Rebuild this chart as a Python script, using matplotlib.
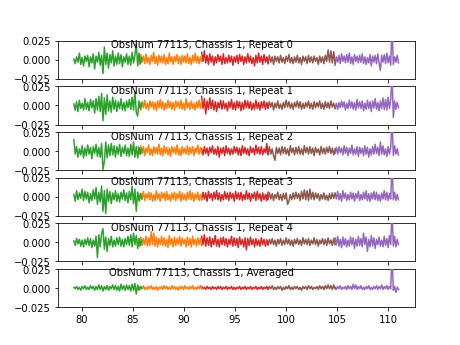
import numpy as np
import matplotlib
matplotlib.use("Agg")
import matplotlib.pyplot as plt

# band edges (GHz) for the five spectral chunks
band_lo = [79.25, 85.55, 91.75, 98.1, 104.8]
band_hi = [85.9, 91.75, 98.25, 104.8, 111.0]
band_colors = ["tab:green", "tab:orange", "tab:red", "tab:brown", "tab:purple"]

labels = ["ObsNum 77113, Chassis 1, Repeat 0",
          "ObsNum 77113, Chassis 1, Repeat 1",
          "ObsNum 77113, Chassis 1, Repeat 2",
          "ObsNum 77113, Chassis 1, Repeat 3",
          "ObsNum 77113, Chassis 1, Repeat 4",
          "ObsNum 77113, Chassis 1, Averaged"]

# spectra, in units of 1e-3
rep0_green = [1,-5,4,-3,9,-6,3,-8,5,-2, 6,-9,4,-4,8,-12,5,-3,10,-7, 6,-18,17,-6,9,-11,7,-4,12,-8, 5,-6,9,-5,7,-9,4,-3,8,-6, 5,-7,10,-4,6,21,-8,9,-5,3]
rep0_orange = [4,-6,7,-3,5,-5,8,-4,3,-6, 6,-2,10,-5,4,-7,6,-3,5,-4, 7,-6,3,-5,9,-3,4,-6,5,-2, 7,-5,4,-6,6,-3,5,-4,8,-5, 3,-6,6,-3,9,-4,5,-5,4,-2]
rep0_red = [10,-2,12,-4,6,-6,8,-3,5,-7, 4,-4,7,-2,5,-6,8,-5,3,-4, 6,-3,5,-7,4,-3,6,-5,7,-2, 5,-6,4,-4,8,-3,5,-5,3,-8, 6,-4,9,-3,5,-6,7,-3,4,-5]
rep0_brown = [3,-5,6,-3,4,-6,5,-2,4,-4, 6,-3,3,-5,5,-2,7,-4,3,-5, 4,-3,6,-4,3,-6,5,-2,4,-5, 6,-3,4,-4,5,-2,3,-6,5,-3, 4,-5,6,-2,13,-3,12,-4,11,-5]
rep0_purple = [-7,4,-3,6,-5,8,-2,5,-4,7, -3,9,-5,4,-6,7,-2,5,-4,6, -3,8,-5,4,-6,3,-4,7,-8,5, -3,6,-5,8,-4,-14,6,-3,7,-5, 9,-4,5,-7,45,-6,4,-3,6,-4]

rep1_green = [2,-6,5,-8,7,-4,3,-6,9,-5, 4,-7,8,-3,6,-10,9,-6,12,-8, 16,-20,10,-12,14,-7,6,-9,11,-5, 7,-8,5,-4,9,-6,4,-7,6,-3, 8,-5,11,-6,18,-9,-14,6,-4,3]
rep1_orange = [-5,4,-6,5,-3,7,-4,3,-6,6, -2,5,-5,4,-7,6,-3,8,-4,5, -6,3,-4,7,-3,5,-5,4,-6,6, -2,5,-4,7,-5,3,-6,9,-3,4, -5,6,-4,3,-6,5,-3,7,-4,5]
rep1_red = [12,-4,9,-11,6,-5,10,-4,7,-6, 5,-8,4,-3,7,-5,6,-4,3,-7, 5,-3,8,-5,4,-6,6,-3,5,-7, 4,-5,7,-3,6,-4,5,-6,3,-5, 7,-4,4,-6,5,-3,6,-5,4,-3]
rep1_brown = [3,-4,5,-2,4,-6,3,-3,6,-4, 2,-5,4,-3,7,-2,5,-4,3,-5, 4,-2,6,-3,5,-5,3,-4,4,-2, 6,-4,3,-5,5,-3,4,-2,6,-4, 3,-5,5,-3,4,-4,6,-2,3,-4]
rep1_purple = [-4,3,-5,4,-3,6,-2,5,-6,3, -4,7,-3,5,-5,4,-6,8,-3,5, -4,6,-7,3,-5,7,-4,5,-8,6, -3,9,-5,4,-7,6,-4,10,-5,8, -6,11,-4,7,42,-16,6,-5,4,-3]

rep2_green = [15,-4,6,-8,3,-5,7,-9,4,-6, 8,-4,5,-10,6,-3,9,-7,5,-8, 10,-24,-14,12,-9,8,-6,10,-5,7, -8,6,-4,9,-7,5,-3,8,-6,4, -7,9,-5,12,-8,6,-9,5,-4,3]
rep2_orange = [5,-4,7,-3,6,-6,4,-2,8,-5, 3,-6,6,-3,5,-4,9,-5,4,-6, 7,-3,5,-5,4,-7,6,-2,5,-4, 8,-5,3,-6,6,-3,4,-4,7,-5, 5,-3,6,-6,4,-2,8,-4,5,-3]
rep2_red = [3,-5,6,-3,4,-6,5,-2,7,-4, 3,-5,6,-8,4,-3,5,-6,7,-3, 4,-5,3,-4,6,-2,5,-5,4,-6, 7,-3,5,-4,3,-6,6,-2,4,-5, 8,-3,5,-4,6,-5,3,-2,10,-4]
rep2_brown = [2,-5,6,-4,3,-6,-12,5,-3,4, -5,6,-3,5,-4,3,-6,7,-2,4, -5,5,-3,6,-4,3,-5,7,-2,5, -4,6,-3,4,-6,5,-2,3,-5,6, -3,4,-4,5,-2,6,-3,4,-5,3]
rep2_purple = [-3,5,-4,6,-2,4,-5,7,-3,5, -6,4,-3,8,-5,3,-4,6,-7,5, -3,4,-6,7,-4,5,-8,3,-5,6, -4,9,-3,5,-6,12,-4,7,-5,3, -7,6,-4,5,44,-6,7,-4,3,-5]

rep3_green = [3,-6,8,-4,5,-2,10,-5,7,-3, 6,-8,4,-5,9,-3,12,-10,6,-7, 14,-19,8,-22,10,-6,7,-9,5,-4, 8,-6,4,-7,6,-3,9,-5,5,-8, 7,-4,14,-9,10,-19,6,-5,4,-3]
rep3_orange = [4,-6,5,-3,7,-5,4,-2,6,-4, 5,-6,3,-5,8,-3,4,-6,6,-2, 5,-5,7,-4,3,-6,5,-3,6,-5, 4,-2,7,-6,5,-4,3,-5,6,-3, 8,-4,5,-6,4,-3,6,-5,3,-4]
rep3_red = [-4,6,-3,5,-6,7,-2,4,-5,6, -3,8,-4,5,-6,3,-4,7,-3,5, -5,6,-2,4,-6,7,-3,5,-4,6, -5,3,-4,8,-3,5,-6,4,-2,6, -5,7,-3,4,-6,5,-4,3,-5,6]
rep3_brown = [2,-4,5,-3,4,-5,3,-2,6,-4, 3,-5,4,-3,5,-10,-6,3,-4,5, -3,6,-2,4,-5,7,-3,9,-4,8, -5,10,-3,6,-4,5,-2,4,-5,3, -3,5,-4,2,-5,4,-3,5,-2,4]
rep3_purple = [5,-3,7,-4,4,-6,8,-2,5,-5, 3,-4,6,-3,5,-6,4,-2,7,-5, 3,-4,6,-3,8,-5,4,-6,5,-3, 7,-4,6,-5,3,-6,5,-3,8,-4, 6,-5,4,-3,44,-4,6,-5,3,-4]

rep4_green = [2,-4,5,-2,4,-5,3,-6,4,-3, 6,-4,5,-7,3,-5,8,-20,10,-6, 12,18,-9,7,-12,5,-4,8,-6,3, -5,6,-3,7,-5,4,-6,5,-3,8, -4,10,-6,12,-3,9,-8,5,-4,3]
rep4_orange = [4,-6,7,-4,5,-3,8,-5,6,-4, 14,-3,12,-5,7,-6,5,-3,8,-4, 6,-5,4,-7,9,-3,5,-6,7,-4, 5,-3,8,-5,6,-2,4,-6,7,-4, 5,-6,8,-3,4,-5,6,-3,5,-4]
rep4_red = [8,-3,10,-5,6,-4,7,-6,5,-3, 9,-5,4,-6,6,-3,7,-4,5,-6, 4,-3,8,-5,6,-4,5,-7,7,-3, 4,-6,6,-10,5,-4,7,-3,4,-6, 5,-4,3,-5,6,-3,4,-5,3,-2]
rep4_brown = [3,-4,4,-2,5,-3,3,-5,4,-2, 5,-4,3,-3,6,-2,4,-4,3,-5, 4,-2,5,-3,3,-4,6,-2,4,-3, 5,-4,3,-2,6,-3,4,-5,3,-2, 5,-3,4,-4,6,-2,3,-4,5,-3]
rep4_purple = [6,-3,8,-5,4,-7,7,-4,5,-6, 3,-5,7,-3,6,-8,4,-5,8,-4, 5,-6,12,-3,7,-12,4,-6,9,-5, 6,-8,4,-3,7,-5,3,-6,8,-4, 5,-7,9,-3,44,-5,8,-6,4,-3]

avg_green = [1,-1,2,-2,1,-3,2,-1,3,-2, 1,-2,3,-1,2,-3,2,-2,4,-2, 3,-4,2,-2,3,-3,2,-1,4,-2, 3,-3,2,-4,5,-2,3,-3,4,-2, 3,-4,5,-3,6,-8,4,-3,2,-1]
avg_orange = [1,-2,2,-1,3,-2,1,-2,2,-1, 3,-2,1,-2,2,-3,1,-1,2,-2, 3,-1,2,-2,1,-2,3,-1,2,-2, 1,-3,2,-1,2,-2,3,-1,1,-2, 2,-1,3,-2,1,-2,2,-1,3,-1]
avg_red = [2,-1,1,-2,2,-1,1,-2,2,-1, 1,-2,2,-1,2,-2,1,-1,2,-2, 1,-1,2,-2,1,-2,1,-1,2,-2, 1,-1,2,-2,1,-1,2,-2,1,-1, 2,-2,1,-1,2,-2,1,-1,2,-1]
avg_brown = [1,-2,2,-1,3,-2,1,-2,2,-1, 2,-3,1,-2,2,-1,3,-2,1,-2, 2,-1,2,-2,1,-3,2,-1,2,-2, 3,-1,2,-2,1,-1,2,-2,3,-1, 2,-2,3,-1,4,-1,3,-2,4,-1]
avg_purple = [1,-2,2,-1,3,-2,1,-1,2,-2, 3,-1,2,-2,5,-1,4,-2,2,-1, 3,-2,1,-2,2,-1,3,-2,1,-2, 2,-1,3,-2,2,-1,4,-2,2,-1, 3,-2,2,-1,44,-3,2,-6,1,-2]

panels = [
    [rep0_green, rep0_orange, rep0_red, rep0_brown, rep0_purple],
    [rep1_green, rep1_orange, rep1_red, rep1_brown, rep1_purple],
    [rep2_green, rep2_orange, rep2_red, rep2_brown, rep2_purple],
    [rep3_green, rep3_orange, rep3_red, rep3_brown, rep3_purple],
    [rep4_green, rep4_orange, rep4_red, rep4_brown, rep4_purple],
    [avg_green, avg_orange, avg_red, avg_brown, avg_purple],
]

fig, axes = plt.subplots(6, 1, sharex=True, figsize=(6.4, 4.8), dpi=72)

for ax, bands, label in zip(axes, panels, labels):
    for j, spec in enumerate(bands):
        x = np.linspace(band_lo[j], band_hi[j], len(spec))
        ax.plot(x, np.array(spec) * 1e-3, color=band_colors[j], zorder=10 - j)
    ax.set_ylim(-0.025, 0.025)
    ax.set_yticks([-0.025, 0.0, 0.025])
    ax.text(0.404, 0.82, label, transform=ax.transAxes, ha='center', va='baseline', zorder=20)

axes[-1].set_xticks([80, 85, 90, 95, 100, 105, 110])

plt.savefig("out.png", dpi=72)
